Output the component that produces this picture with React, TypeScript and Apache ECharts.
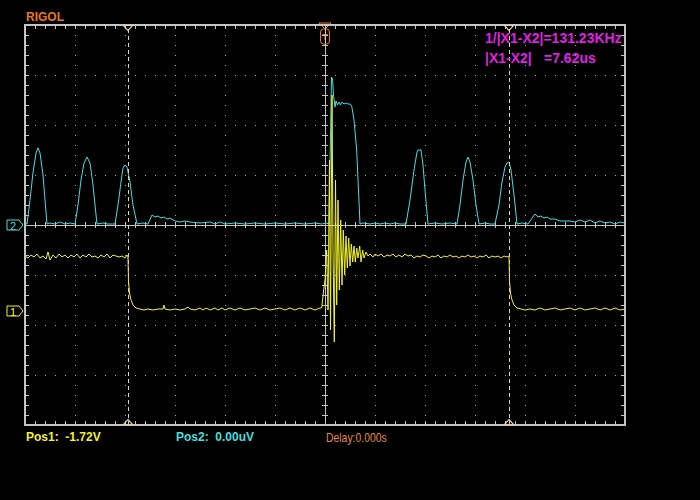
import React, { useEffect, useRef } from "react";
import * as echarts from "echarts";

// Time axis: 1 us / div, 12 divisions. Vertical: 8 divisions.
const X_MIN = 0;
const X_MAX = 12;
const Y_MIN = -4;
const Y_MAX = 4;
const CH1_OFFSET = -1.72; // divisions (Pos1)
const CH2_OFFSET = 0; // divisions (Pos2)
const CURSORS = [2.06, 9.68]; // us, |X1-X2| = 7.62us

// Channel 2 (cyan) trace: [time us, divisions]
const ch2Wave: [number, number][] = [
  [0, 0.04], [0.04, 0.02], [0.1, 0.5], [0.16, 1.05], [0.22, 1.44], [0.26, 1.54], [0.3, 1.44], [0.36, 1.0], [0.4, 0.5], [0.44, 0.02],
  [0.5, 0.04], [0.6, 0.02], [0.7, 0.06], [0.8, 0.02], [0.9, 0.04],
  [1.0, 0.02], [1.06, 0.4], [1.12, 0.9], [1.18, 1.24], [1.24, 1.36], [1.3, 1.24], [1.36, 0.8], [1.4, 0.4], [1.44, 0.02],
  [1.56, 0.04], [1.66, 0.02],
  [1.8, 0.02], [1.86, 0.4], [1.92, 0.86], [1.96, 1.14], [2.0, 1.2], [2.04, 1.16], [2.1, 0.86], [2.16, 0.4], [2.24, 0.02],
  [2.36, 0.04], [2.46, 0.02], [2.54, 0.2], [2.6, 0.16], [2.66, 0.18], [2.72, 0.14], [2.78, 0.16], [2.84, 0.12], [2.9, 0.14], [3.0, 0.08],
  [3.1, 0.06], [3.2, 0.08], [3.3, 0.06], [3.5, 0.04], [3.7, 0.06], [3.8, 0.02], [3.9, 0.06], [4.0, 0.02], [4.2, 0.04], [4.4, 0.02],
  [4.6, 0.04], [4.8, 0.02], [5.0, 0.04], [5.2, 0.02], [5.4, 0.04], [5.6, 0.02], [5.8, 0.04], [5.94, 0.02], [6.02, 0.04], [6.08, 0.02],
  [6.13, 2.96], [6.15, 2.92], [6.17, 2.6], [6.2, 2.36], [6.22, 2.48], [6.25, 2.4], [6.28, 2.46], [6.31, 2.4], [6.34, 2.46], [6.38, 2.42],
  [6.42, 2.44], [6.46, 2.42], [6.5, 2.42], [6.534, 2.38], [6.58, 2.1], [6.634, 1.5], [6.7, 0.02],
  [6.76, 0.04], [6.9, 0.02], [7.0, 0.04], [7.1, 0.02], [7.2, 0.04], [7.3, 0.02], [7.4, 0.04], [7.5, 0.02],
  [7.62, 0.02], [7.7, 0.5], [7.78, 1.1], [7.84, 1.46], [7.86, 1.5], [7.92, 1.5], [7.96, 1.2], [8.0, 0.7], [8.06, 0.02],
  [8.2, 0.04], [8.34, 0.02], [8.5, 0.04],
  [8.64, 0.02], [8.7, 0.4], [8.76, 0.9], [8.82, 1.26], [8.86, 1.36], [8.9, 1.26], [8.96, 0.9], [9.02, 0.4], [9.08, 0.02],
  [9.2, 0.04], [9.3, 0.02],
  [9.4, 0.02], [9.48, 0.4], [9.54, 0.86], [9.6, 1.16], [9.64, 1.24], [9.68, 1.26], [9.72, 1.1], [9.78, 0.6], [9.84, 0.02],
  [9.94, 0.04], [10.06, 0.02], [10.2, 0.22], [10.26, 0.16], [10.32, 0.18], [10.38, 0.14], [10.44, 0.16], [10.5, 0.12], [10.6, 0.12],
  [10.7, 0.08], [10.9, 0.08], [11.0, 0.06], [11.1, 0.1], [11.2, 0.06], [11.3, 0.1], [11.4, 0.04], [11.5, 0.08], [11.6, 0.04],
  [11.7, 0.06], [11.8, 0.02], [11.9, 0.06], [12.0, 0.04],
];

// Channel 1 (yellow) trace: [time us, volts above its ground marker]
const ch1Wave: [number, number][] = [
  [0, 1.1], [0.06, 1.06], [0.12, 1.12], [0.18, 1.08], [0.24, 1.14], [0.3, 1.06], [0.36, 1.1], [0.42, 1.04], [0.46, 1.18], [0.5, 1.02],
  [0.56, 1.12], [0.62, 1.06], [0.68, 1.14], [0.74, 1.08], [0.8, 1.12], [0.86, 1.06], [0.92, 1.12], [0.98, 1.08], [1.04, 1.14], [1.1, 1.06],
  [1.16, 1.12], [1.22, 1.08], [1.28, 1.14], [1.34, 1.08], [1.4, 1.1], [1.46, 1.06], [1.52, 1.12], [1.58, 1.08], [1.64, 1.14], [1.7, 1.06],
  [1.76, 1.12], [1.82, 1.1], [1.88, 1.08], [1.94, 1.1], [2.0, 1.06], [2.04, 1.12], [2.06, 1.08],
  [2.07, 0.6], [2.09, 0.36], [2.12, 0.22], [2.16, 0.12], [2.22, 0.06], [2.3, 0.04],
  [2.38, 0.02], [2.46, 0.04], [2.56, 0.02], [2.66, 0.04], [2.76, 0.04], [2.78, 0.12], [2.8, 0.04], [2.9, 0.02], [3.0, 0.04], [3.1, 0.02],
  [3.2, 0.04], [3.26, 0.08], [3.3, 0.04], [3.4, 0.02], [3.5, 0.06], [3.56, 0.02], [3.62, 0.06], [3.7, 0.02], [3.8, 0.06], [3.86, 0.02],
  [3.94, 0.06], [4.0, 0.02], [4.1, 0.06], [4.2, 0.02], [4.3, 0.06], [4.4, 0.02], [4.5, 0.04], [4.6, 0.06], [4.7, 0.02], [4.8, 0.06],
  [4.9, 0.02], [5.0, 0.04], [5.1, 0.06], [5.2, 0.02], [5.3, 0.06], [5.4, 0.02], [5.5, 0.06], [5.6, 0.02], [5.7, 0.06], [5.8, 0.02],
  [5.9, 0.06], [5.934, 0.06],
  [5.966, 0.36], [6.0, 0.62], [6.034, 1.22], [6.06, 0.02], [6.09, 3.02], [6.11, -0.38], [6.14, 4.32], [6.16, 1.22], [6.186, -0.62],
  [6.21, 2.62], [6.234, 0.12], [6.26, 2.22], [6.286, 0.42], [6.314, 1.82], [6.34, 0.52], [6.366, 1.62], [6.394, 0.72], [6.42, 1.5],
  [6.446, 0.86], [6.474, 1.46], [6.5, 0.9], [6.526, 1.34], [6.554, 0.98], [6.58, 1.3], [6.606, 0.98], [6.634, 1.26], [6.66, 1.06],
  [6.694, 1.3], [6.72, 0.98], [6.754, 1.22], [6.78, 1.06], [6.82, 1.18], [6.86, 1.1], [6.9, 1.14], [6.96, 1.08], [7.0, 1.14],
  [7.06, 1.1], [7.12, 1.14], [7.18, 1.08], [7.24, 1.12], [7.3, 1.1], [7.36, 1.14], [7.42, 1.08], [7.48, 1.12], [7.54, 1.08], [7.6, 1.14],
  [7.66, 1.1], [7.72, 1.12], [7.78, 1.06], [7.84, 1.1], [7.9, 1.08], [7.96, 1.12], [8.02, 1.1], [8.08, 1.06], [8.14, 1.1], [8.2, 1.08],
  [8.26, 1.12], [8.32, 1.06], [8.38, 1.1], [8.44, 1.08], [8.5, 1.12], [8.56, 1.08], [8.62, 1.1], [8.68, 1.06], [8.74, 1.1], [8.8, 1.08],
  [8.86, 1.12], [8.92, 1.08], [8.98, 1.1], [9.04, 1.06], [9.1, 1.1], [9.16, 1.08], [9.22, 1.12], [9.28, 1.06], [9.34, 1.1], [9.4, 1.08],
  [9.46, 1.1], [9.52, 1.06], [9.58, 1.1], [9.64, 1.08], [9.68, 1.1],
  [9.69, 0.6], [9.71, 0.36], [9.74, 0.22], [9.78, 0.12], [9.84, 0.06], [9.92, 0.04],
  [10.0, 0.02], [10.1, 0.04], [10.2, 0.02], [10.3, 0.06], [10.4, 0.02], [10.5, 0.04], [10.6, 0.06], [10.7, 0.02], [10.8, 0.04],
  [10.9, 0.06], [11.0, 0.02], [11.1, 0.06], [11.2, 0.02], [11.3, 0.04], [11.4, 0.06], [11.5, 0.02], [11.6, 0.06], [11.7, 0.02],
  [11.8, 0.06], [11.9, 0.02], [12.0, 0.04],
];

const BRAND = "RIGOL";
const CURSOR_LINE1 = "1/|X1-X2|=131.23KHz";
const CURSOR_LINE2A = "|X1-X2|";
const CURSOR_LINE2B = "=7.62us";
const POS1_TEXT = "Pos1:  -1.72V";
const POS2_TEXT = "Pos2:  0.00uV";
const DELAY_TEXT = "Delay:0.000s";

const GRID = { left: 25, top: 25, width: 600, height: 400 };

const C_GRID = "#c4c4c4";
const C_DOT = "#a4a4a4";
const C_CH1 = "#f2f22a";
const C_CH2 = "#46dede";
const C_CURSOR = "#e8d4aa";
const C_ORANGE = "#e8781e";
const C_MAGENTA = "#e021e0";

function axisBase(extra: any) {
  return {
    type: "value",
    interval: 1,
    axisLabel: { show: false },
    axisLine: { show: true, onZero: false, lineStyle: { color: C_GRID, width: 2 } },
    axisTick: { show: true, inside: true, length: 4, lineStyle: { color: C_GRID } },
    minorTick: { show: true, splitNumber: 5, length: 4, lineStyle: { color: C_GRID } },
    splitLine: { show: false },
    ...extra,
  };
}

export default function App() {
  const ref = useRef<HTMLDivElement>(null);

  useEffect(() => {
    if (!ref.current) return;
    const chart = echarts.init(ref.current, undefined, { renderer: "svg" });

    const pxPerDivY = GRID.height / (Y_MAX - Y_MIN);
    const yOf = (div: number) => GRID.top + (Y_MAX - div) * pxPerDivY;
    const centerX = GRID.left + GRID.width / 2;

    const marker = (label: string, div: number, color: string) => {
      const cy = yOf(div);
      return {
        type: "group",
        children: [
          {
            type: "polygon",
            shape: { points: [[7, cy - 5], [19, cy - 5], [23, cy], [19, cy + 5], [7, cy + 5]] },
            style: { fill: "none", stroke: color, lineWidth: 1 },
          },
          {
            type: "text",
            style: {
              text: label, x: 13, y: cy + 0.5, fill: color, align: "center", verticalAlign: "middle",
              font: "11px 'Liberation Sans', sans-serif",
            },
          },
        ],
      };
    };

    const dotted = { show: true, lineStyle: { color: C_DOT, type: [1, 9], width: 1 } };
    const crossLine = { show: true, onZero: true, lineStyle: { color: C_GRID, width: 1 } };
    const crossTick = { show: true, inside: true, length: 3, lineStyle: { color: C_GRID } };
    const crossMinor = { show: true, splitNumber: 5, length: 3, lineStyle: { color: C_GRID } };

    chart.setOption({
      animation: false,
      backgroundColor: "#000",
      grid: [
        { ...GRID, containLabel: false },
        { ...GRID, containLabel: false },
      ],
      xAxis: [
        axisBase({ gridIndex: 0, position: "bottom", min: X_MIN, max: X_MAX, splitLine: dotted }),
        axisBase({ gridIndex: 0, position: "top", min: X_MIN, max: X_MAX }),
        axisBase({ gridIndex: 1, position: "bottom", min: -6, max: 6, axisLine: crossLine, axisTick: crossTick, minorTick: crossMinor }),
        axisBase({ gridIndex: 1, position: "top", min: -6, max: 6, axisLine: crossLine, axisTick: crossTick, minorTick: crossMinor }),
      ],
      yAxis: [
        axisBase({ gridIndex: 0, position: "left", min: Y_MIN, max: Y_MAX, splitLine: dotted }),
        axisBase({ gridIndex: 0, position: "right", min: Y_MIN, max: Y_MAX }),
        axisBase({ gridIndex: 1, position: "left", min: Y_MIN, max: Y_MAX, axisLine: crossLine, axisTick: crossTick, minorTick: crossMinor }),
        axisBase({ gridIndex: 1, position: "right", min: Y_MIN, max: Y_MAX, axisLine: crossLine, axisTick: crossTick, minorTick: crossMinor }),
      ],
      series: [
        {
          name: "CH2",
          type: "line",
          xAxisIndex: 0,
          yAxisIndex: 0,
          data: ch2Wave.map(([t, v]) => [t, v + CH2_OFFSET]),
          showSymbol: false,
          symbol: "none",
          clip: true,
          lineStyle: { color: C_CH2, width: 1 },
          z: 3,
          markPoint: {
            silent: true,
            symbol: "triangle",
            symbolSize: [9, 5],
            itemStyle: { color: "rgba(0,0,0,0)", borderColor: C_CURSOR, borderWidth: 1 },
            label: { show: false },
            data: CURSORS.flatMap((x) => [
              { coord: [x, Y_MAX], symbolRotate: 180, symbolOffset: [0, 3] },
              { coord: [x, Y_MIN], symbolOffset: [0, -3] },
            ]),
          },
        },
        {
          name: "CH1",
          type: "line",
          xAxisIndex: 0,
          yAxisIndex: 0,
          data: ch1Wave.map(([t, v]) => [t, v + CH1_OFFSET]),
          showSymbol: false,
          symbol: "none",
          clip: true,
          lineStyle: { color: C_CH1, width: 1 },
          z: 4,
          markLine: {
            silent: true,
            symbol: ["none", "none"],
            label: { show: false },
            lineStyle: { color: C_CURSOR, type: [4, 3], width: 1 },
            data: CURSORS.map((x) => ({ xAxis: x })),
          },
        },
      ],
      graphic: [
        {
          type: "text",
          style: { text: BRAND, x: 26, y: 17, fill: C_ORANGE, verticalAlign: "middle", font: "bold 12px 'Liberation Sans', sans-serif" },
        },
        {
          type: "text",
          z: 10,
          style: { text: CURSOR_LINE1, x: 485, y: 38, fill: C_MAGENTA, verticalAlign: "middle", font: "bold 14px 'Liberation Sans', sans-serif" },
        },
        {
          type: "text",
          z: 10,
          style: { text: CURSOR_LINE2A, x: 485, y: 58, fill: C_MAGENTA, verticalAlign: "middle", font: "bold 14px 'Liberation Sans', sans-serif" },
        },
        {
          type: "text",
          z: 10,
          style: { text: CURSOR_LINE2B, x: 544, y: 58, fill: C_MAGENTA, verticalAlign: "middle", font: "bold 14px 'Liberation Sans', sans-serif" },
        },
        {
          type: "text",
          style: { text: POS1_TEXT, x: 26, y: 437, fill: C_CH1, verticalAlign: "middle", font: "bold 12px 'Liberation Sans', sans-serif" },
        },
        {
          type: "text",
          style: { text: POS2_TEXT, x: 176, y: 437, fill: C_CH2, verticalAlign: "middle", font: "bold 12px 'Liberation Sans', sans-serif" },
        },
        {
          type: "text",
          x: 326,
          y: 437,
          scaleX: 0.8,
          style: {
            text: DELAY_TEXT, x: 0, y: 0, fill: "#e0884a", verticalAlign: "middle",
            font: "13px 'Liberation Sans', sans-serif",
          },
        },
        marker("2", CH2_OFFSET, C_CH2),
        marker("1", CH1_OFFSET, C_CH1),
        {
          type: "group",
          z: 10,
          children: [
            {
              type: "polygon",
              shape: { points: [[centerX - 6, GRID.top - 2], [centerX + 6, GRID.top - 2], [centerX, GRID.top + 4]] },
              style: { fill: "none", stroke: C_ORANGE, lineWidth: 1 },
            },
            {
              type: "rect",
              shape: { x: centerX - 4.5, y: GRID.top + 4, width: 9, height: 15, r: 3 },
              style: { fill: "#000", stroke: C_ORANGE, lineWidth: 1 },
            },
            {
              type: "text",
              style: {
                text: "T", x: centerX, y: GRID.top + 11.5, fill: C_ORANGE, align: "center", verticalAlign: "middle",
                font: "bold 9px 'Liberation Sans', sans-serif",
              },
            },
          ],
        },
      ],
    });

    return () => chart.dispose();
  }, []);

  return (
    <div
      ref={ref}
      style={{ position: "absolute", left: 0, top: 0, width: 700, height: 500, background: "#000" }}
    />
  );
}
